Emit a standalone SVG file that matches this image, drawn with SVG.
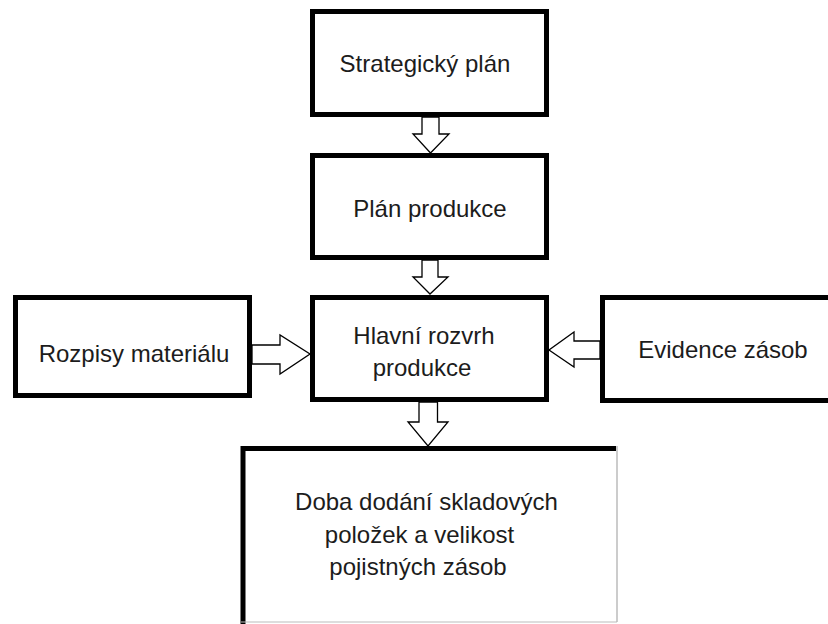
<svg xmlns="http://www.w3.org/2000/svg" width="828" height="624" viewBox="0 0 828 624">
<style>
.box{fill:#fff;stroke:#000;stroke-width:5}
.arr{fill:#fff;stroke:#000;stroke-width:1.3;stroke-linejoin:miter}
.t{font-family:"Liberation Sans",Arial,sans-serif;font-size:24px;fill:#1c1c1c;text-anchor:middle}
</style>
<rect x="0" y="0" width="828" height="624" fill="#fff"/>
<g id="connectors">
<polygon class="arr" points="422,117 439,117 439,134 449,134 430.5,153 413,134 422,134"/>
<polygon class="arr" points="422,260 438,260 438,277 448,277 430,294 413,277 422,277"/>
<polygon class="arr" points="419,402 437.5,402 437.5,422 448,422 428,446 408,422 419,422"/>
<polygon class="arr" points="252,345 280,345 280,335 310,354 280,374 280,364 252,364"/>
<polygon class="arr" points="600,341 574,341 574,332 549,350 574,367 574,359 600,359"/>
</g>
<g id="strategicky">
<rect class="box" x="312.5" y="11.5" width="234" height="103"/>
<text class="t" x="425" y="72">Strategický plán</text>
</g>
<g id="plan-produkce">
<rect class="box" x="312.5" y="155.5" width="234" height="102"/>
<text class="t" x="430" y="217">Plán produkce</text>
</g>
<g id="hlavni-rozvrh">
<rect class="box" x="312.5" y="297.5" width="234" height="102"/>
<text class="t" x="424" y="344">Hlavní rozvrh</text>
<text class="t" x="422" y="376">produkce</text>
</g>
<g id="rozpisy">
<rect class="box" x="15.5" y="297.5" width="234" height="98"/>
<text class="t" x="134" y="362">Rozpisy materiálu</text>
</g>
<g id="evidence">
<rect class="box" x="602.5" y="297.5" width="240" height="103"/>
<text class="t" x="723" y="358">Evidence zásob</text>
</g>
<g id="doba-dodani">
<rect x="243" y="448.5" width="374" height="174" fill="#fff"/>
<path d="M243,624 V448.5 H616" fill="none" stroke="#000" stroke-width="5"/>
<line x1="617" y1="446" x2="617" y2="622" stroke="#999" stroke-width="1"/>
<line x1="241" y1="622" x2="617" y2="622" stroke="#bbb" stroke-width="1"/>
<text class="t" x="426.5" y="510">Doba dodání skladových</text>
<text class="t" x="419.5" y="543">položek a velikost</text>
<text class="t" x="418" y="575">pojistných zásob</text>
</g>
</svg>
